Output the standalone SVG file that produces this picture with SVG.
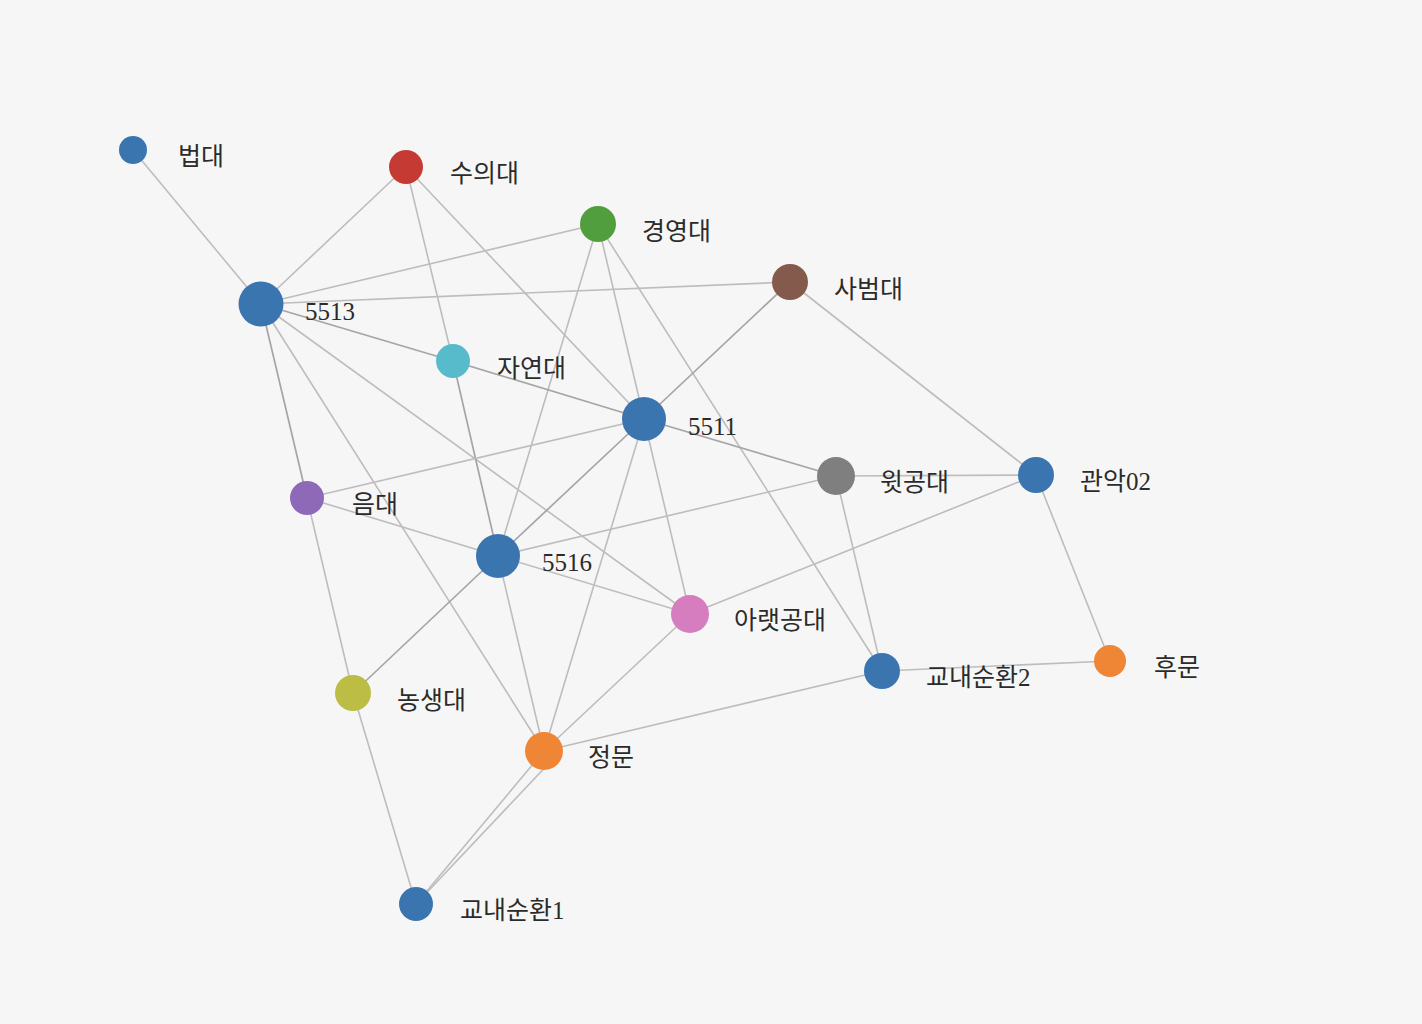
<svg xmlns="http://www.w3.org/2000/svg" width="1422" height="1024" viewBox="0 0 1422 1024">
<style>
.link{stroke:#bdbdbd;stroke-width:1.6;fill:none}
.heavy{stroke:#a5a5a5;stroke-width:1.7}
.lbl{font-family:"Liberation Serif","Noto Sans CJK KR",serif;font-size:25px;fill:#2b2b2b}
</style>
<rect width="1422" height="1024" fill="#f6f6f6"/>
<g id="links">
<line class="link" x1="133" y1="150" x2="261" y2="304"/>
<line class="link" x1="406" y1="167" x2="261" y2="304"/>
<line class="link" x1="406" y1="167" x2="453" y2="361"/>
<line class="link" x1="406" y1="167" x2="644" y2="419"/>
<line class="link" x1="598" y1="224" x2="261" y2="304"/>
<line class="link" x1="598" y1="224" x2="498" y2="556"/>
<line class="link" x1="598" y1="224" x2="644" y2="419"/>
<line class="link" x1="598" y1="224" x2="882" y2="671"/>
<line class="link" x1="790" y1="282" x2="261" y2="304"/>
<line class="link heavy" x1="790" y1="282" x2="644" y2="419"/>
<line class="link" x1="790" y1="282" x2="1036" y2="475"/>
<line class="link heavy" x1="261" y1="304" x2="453" y2="361"/>
<line class="link heavy" x1="453" y1="361" x2="644" y2="419"/>
<line class="link heavy" x1="644" y1="419" x2="836" y2="476"/>
<line class="link heavy" x1="261" y1="304" x2="307" y2="498"/>
<line class="link" x1="261" y1="304" x2="544" y2="751"/>
<line class="link" x1="261" y1="304" x2="690" y2="614"/>
<line class="link heavy" x1="453" y1="361" x2="498" y2="556"/>
<line class="link" x1="307" y1="498" x2="644" y2="419"/>
<line class="link" x1="307" y1="498" x2="498" y2="556"/>
<line class="link" x1="307" y1="498" x2="353" y2="693"/>
<line class="link heavy" x1="644" y1="419" x2="498" y2="556"/>
<line class="link heavy" x1="498" y1="556" x2="353" y2="693"/>
<line class="link" x1="644" y1="419" x2="544" y2="751"/>
<line class="link" x1="644" y1="419" x2="690" y2="614"/>
<line class="link" x1="498" y1="556" x2="544" y2="751"/>
<line class="link" x1="498" y1="556" x2="690" y2="614"/>
<line class="link" x1="498" y1="556" x2="836" y2="476"/>
<line class="link" x1="836" y1="476" x2="1036" y2="475"/>
<line class="link" x1="836" y1="476" x2="882" y2="671"/>
<line class="link" x1="1036" y1="475" x2="690" y2="614"/>
<line class="link" x1="1036" y1="475" x2="1110" y2="661"/>
<line class="link" x1="882" y1="671" x2="1110" y2="661"/>
<line class="link" x1="882" y1="671" x2="544" y2="751"/>
<line class="link" x1="690" y1="614" x2="544" y2="751"/>
<line class="link" x1="353" y1="693" x2="416" y2="904"/>
<line class="link" x1="544" y1="751" x2="416" y2="904"/>
<line class="link" x1="553" y1="759" x2="416" y2="904"/>
</g>
<g id="node-beopdae"><circle cx="133" cy="150" r="14" fill="#3a75b0"/><text class="lbl" x="178" y="165">법대</text></g>
<g id="node-suuidae"><circle cx="406" cy="167" r="17" fill="#c53a32"/><text class="lbl" x="450" y="182">수의대</text></g>
<g id="node-gyeongyeongdae"><circle cx="598" cy="224" r="18" fill="#519e3e"/><text class="lbl" x="642" y="240">경영대</text></g>
<g id="node-sabeomdae"><circle cx="790" cy="282" r="18" fill="#845a4d"/><text class="lbl" x="834" y="298">사범대</text></g>
<g id="node-5513"><circle cx="261" cy="304" r="22.5" fill="#3a75b0"/><text class="lbl" x="305" y="320">5513</text></g>
<g id="node-jayeondae"><circle cx="453" cy="361" r="17" fill="#57bbcc"/><text class="lbl" x="497" y="377">자연대</text></g>
<g id="node-5511"><circle cx="644" cy="419" r="22" fill="#3a75b0"/><text class="lbl" x="688" y="435">5511</text></g>
<g id="node-witgongdae"><circle cx="836" cy="476" r="19" fill="#7f7f7f"/><text class="lbl" x="880" y="491">윗공대</text></g>
<g id="node-gwanak02"><circle cx="1036" cy="475" r="18" fill="#3a75b0"/><text class="lbl" x="1080" y="490">관악02</text></g>
<g id="node-eumdae"><circle cx="307" cy="498" r="17" fill="#8d69b8"/><text class="lbl" x="352" y="513">음대</text></g>
<g id="node-5516"><circle cx="498" cy="556" r="22" fill="#3a75b0"/><text class="lbl" x="542" y="571">5516</text></g>
<g id="node-araetgongdae"><circle cx="690" cy="614" r="19" fill="#d57dbf"/><text class="lbl" x="734" y="629">아랫공대</text></g>
<g id="node-gyonae2"><circle cx="882" cy="671" r="18" fill="#3a75b0"/><text class="lbl" x="926" y="686">교내순환2</text></g>
<g id="node-humun"><circle cx="1110" cy="661" r="16" fill="#ef8636"/><text class="lbl" x="1154" y="676">후문</text></g>
<g id="node-nongsaengdae"><circle cx="353" cy="693" r="18" fill="#bcbd45"/><text class="lbl" x="397" y="709">농생대</text></g>
<g id="node-jeongmun"><circle cx="544" cy="751" r="19" fill="#ef8636"/><text class="lbl" x="588" y="766">정문</text></g>
<g id="node-gyonae1"><circle cx="416" cy="904" r="17" fill="#3a75b0"/><text class="lbl" x="460" y="919">교내순환1</text></g>
</svg>
